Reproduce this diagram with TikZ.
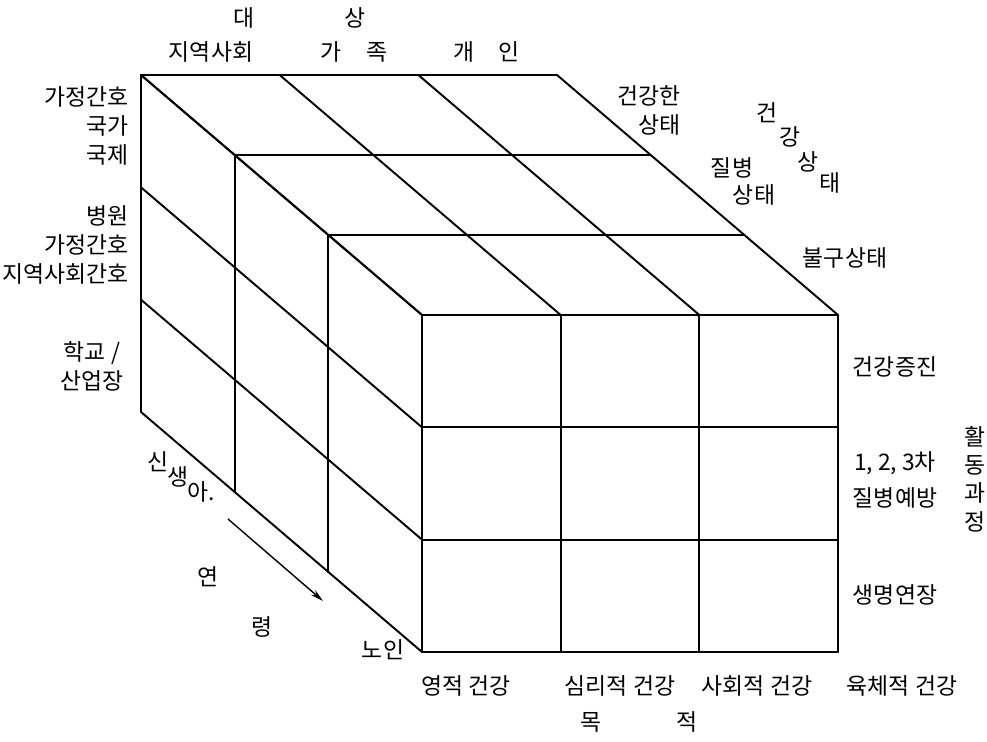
\documentclass[tikz,border=0pt]{standalone}
\usepackage{fontspec}
\newfontfamily\krfont{Noto Sans CJK KR}
\usetikzlibrary{arrows.meta}

\begin{document}
\begin{tikzpicture}[
  x=0.02cm, y=-0.02cm,
  >=Stealth,
  edge/.style={draw=black, line width=1.1pt, line cap=round},
  lbl/.style={inner sep=0pt, font=\krfont\fontsize{13}{16.5}\selectfont},
  flow/.style={->, draw=black, line width=0.8pt}
]
  \useasboundingbox (0,0) rectangle (987,742);

  % front face, top face and left face points
  \foreach \i in {0,...,3}
    \foreach \j in {0,...,3} {
      \coordinate (f\i\j) at ({422+138.67*\i},{315+112.33*\j});
      \coordinate (t\i\j) at ({422+138.67*\i-93.67*\j},{315-80*\j});
      \coordinate (l\i\j) at ({422-93.67*\i},{315+112.33*\j-80*\i});
    }

  % grid of the block
  \foreach \n in {0,...,3} {
    \draw[edge] (f\n0) -- (f\n3);
    \draw[edge] (f0\n) -- (f3\n);
    \draw[edge] (t\n0) -- (t\n3);
    \draw[edge] (l0\n) -- (l3\n);
  }
  \foreach \k in {1,2,3} {
    \draw[edge] (t0\k) -- (t3\k);
    \draw[edge] (l\k0) -- (l\k3);
  }

  % target
  \node[lbl] (target) at (300,18) {대\hspace{1.8cm}상};
  \node[lbl] (comm) at (211,52) {지역사회};
  \node[lbl] (family) at (354,52) {가\hspace{0.5cm}족};
  \node[lbl] (person) at (487,52) {개\hspace{0.48cm}인};

  % settings
  \node[lbl, anchor=east, align=right] (set1) at (129,126) {가정간호\\국가\\국제};
  \node[lbl, anchor=east, align=right] (set2) at (129,245) {병원\\가정간호\\지역사회간호};
  \node[lbl, align=center] (set3) at (92,366) {학교 /\\산업장};

  % health state
  \node[lbl, anchor=east, align=right] (well) at (681,110) {건강한\\상태};
  \node[lbl] (sick1) at (732,168) {질병};
  \node[lbl] (sick2) at (754,195) {상태};
  \node[lbl] (disabled) at (845,258) {불구상태};
  \foreach \c/\x/\y [count=\n] in {건/767/113, 강/790/137, 상/808/162, 태/830/183}
    \node[lbl] (hstate\n) at (\x,\y) {\c};

  % activity process
  \node[lbl] (promo) at (895,367) {건강증진};
  \node[lbl] (prev1) at (895,463) {1, 2, 3차};
  \node[lbl] (prev2) at (895,498) {질병예방};
  \node[lbl] (life) at (895,595) {생명연장};
  \foreach \c/\y [count=\n] in {활/437, 동/465, 과/493, 정/522}
    \node[lbl] (proc\n) at (975,\y) {\c};

  % purpose
  \node[lbl] (spirit) at (466,686) {영적 건강};
  \node[lbl] (psych) at (620,686) {심리적 건강};
  \node[lbl] (social) at (757,686) {사회적 건강};
  \node[lbl] (body) at (902,686) {육체적 건강};
  \node[lbl] (purpose) at (639,722) {목\hspace{1.5cm}적};

  % age
  \foreach \c/\x/\y [count=\n] in {신/158/462, 생/178/477, 아./201/492}
    \node[lbl] (baby\n) at (\x,\y) {\c};
  \node[lbl] (elder) at (383,650) {노인};
  \node[lbl] (age1) at (208,577) {연};
  \node[lbl] (age2) at (262,627) {령};
  \coordinate (ageA) at (228,519);
  \coordinate (ageB) at (323,601);
  \draw[flow, -{Stealth[length=2.6mm,width=1.3mm]}] (ageA) -- (ageB);
\end{tikzpicture}
\end{document}
